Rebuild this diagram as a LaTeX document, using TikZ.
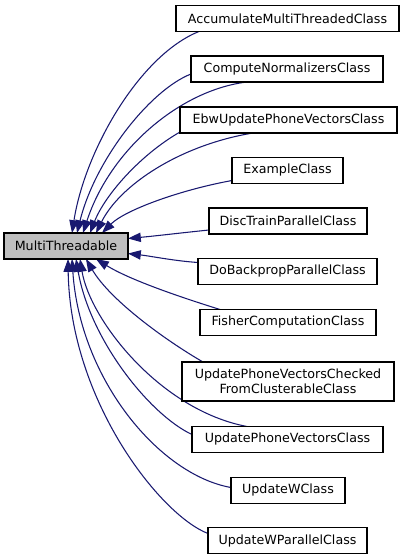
\documentclass[tikz,border=0pt]{standalone}
\usepackage{fontspec}
\setmainfont{DejaVu Sans}
\usetikzlibrary{arrows.meta,calc,backgrounds}
\definecolor{edgeblue}{HTML}{191970}
\definecolor{basegray}{HTML}{BFBFBF}
\tikzset{
  cls/.style={draw=black, line width=0.8pt, fill=white, inner sep=0pt, outer sep=0pt,
    minimum height=19.5pt, font=\fontsize{9.5pt}{10.9pt}\selectfont, align=center},
  base/.style={cls, fill=basegray},
  inh/.style={draw=edgeblue, line width=0.8pt,
    -{Triangle[length=9.6pt,width=7pt,fill=edgeblue]}},
}
\begin{document}
\begin{tikzpicture}[x=0.75pt,y=-0.75pt]
\useasboundingbox (0,0) rectangle (405,560);
% nodes
\node[base, minimum width=93pt] (mt) at (66,246) {MultiThreadable};
\node[cls, minimum width=167.25pt] (acc) at (287.5,18.5) {AccumulateMultiThreadedClass};
\node[cls, minimum width=144pt] (cn) at (287,69) {ComputeNormalizersClass};
\node[cls, minimum width=162.75pt] (ebw) at (288.5,120) {EbwUpdatePhoneVectorsClass};
\node[cls, minimum width=83.25pt] (ex) at (287.5,170.5) {ExampleClass};
\node[cls, minimum width=118.5pt] (disc) at (288,221) {DiscTrainParallelClass};
\node[cls, minimum width=134.25pt] (dob) at (287.5,271.5) {DoBackpropParallelClass};
\node[cls, minimum width=132pt] (fish) at (288,322.5) {FisherComputationClass};
\node[cls, minimum width=159pt, minimum height=29.25pt] (upvc) at (288,381.5) {UpdatePhoneVectorsChecked\\FromClusterableClass};
\node[cls, minimum width=143.25pt] (upv) at (287.5,439.5) {UpdatePhoneVectorsClass};
\node[cls, minimum width=85.5pt] (uw) at (288,490.5) {UpdateWClass};
\node[cls, minimum width=119.25pt] (uwp) at (287.5,540.5) {UpdateWParallelClass};
% edges behind the boxes
\begin{pgfonlayer}{background}
\draw[inh] ($(acc.south west)+(23,0)$) .. controls (140,55) and (85,150) .. ($(mt.north west)+(68,0)$);
\draw[inh] ($(cn.south west)+(0,-8)$) .. controls (150,90) and (95,160) .. ($(mt.north west)+(73,0)$);
\draw[inh] ($(cn.south west)+(56,0)$) .. controls (180,90) and (110,150) .. ($(mt.north west)+(79,0)$);
\draw[inh] ($(ebw.south west)+(0,-1)$) .. controls (140,155) and (105,195) .. ($(mt.north west)+(86,0)$);
\draw[inh] ($(ebw.south west)+(73,0)$) .. controls (180,145) and (120,185) .. ($(mt.north west)+(92,0)$);
\draw[inh] ($(ex.south west)+(0,-3)$) .. controls (180,190) and (125,210) .. ($(mt.north west)+(98,0)$);
\draw[inh] ($(disc.south west)+(0,-4)$) .. controls (180,233) and (155,236) .. ($(mt.north east)+(0,5.5)$);
\draw[inh] ($(dob.north west)+(0,4)$) .. controls (175,261) and (150,256) .. ($(mt.south east)+(0,-5.5)$);
\draw[inh] ($(fish.north west)+(20,0)$) .. controls (180,297) and (130,280) .. ($(mt.south west)+(92,0)$);
\draw[inh] ($(upvc.north west)+(21,0)$) .. controls (165,340) and (110,300) .. ($(mt.south west)+(82,0)$);
\draw[inh] ($(upv.north west)+(55,0)$) .. controls (160,410) and (90,320) .. ($(mt.south west)+(76,0)$);
\draw[inh] ($(upv.north west)+(0,8)$) .. controls (150,415) and (90,340) .. ($(mt.south west)+(72,0)$);
\draw[inh] ($(uw.north west)+(0,10)$) .. controls (160,475) and (80,380) .. ($(mt.south west)+(68,0)$);
\draw[inh] ($(uwp.north west)+(0,6)$) .. controls (160,515) and (70,400) .. ($(mt.south west)+(64,0)$);
\end{pgfonlayer}
\end{tikzpicture}
\end{document}
